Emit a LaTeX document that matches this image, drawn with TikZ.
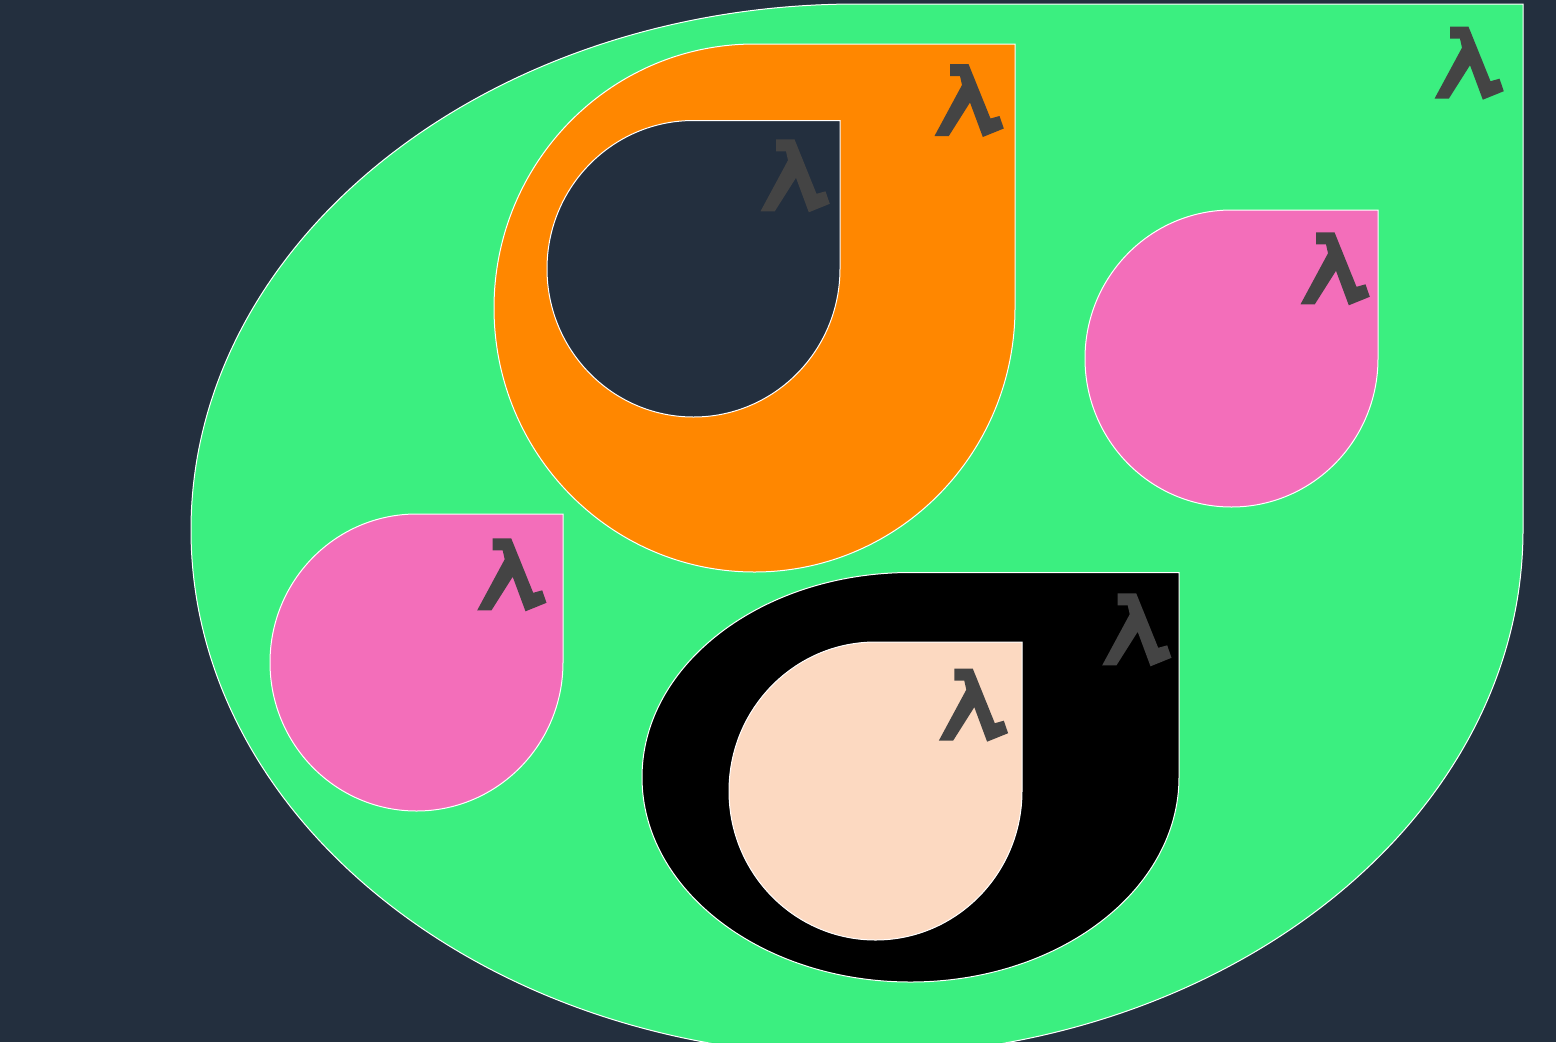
\documentclass[tikz,border=0pt]{standalone}
\usepackage{tikz}
\definecolor{bgc}{HTML}{232F3E}
\definecolor{greenc}{HTML}{3BEF80}
\definecolor{orangec}{HTML}{FF8700}
\definecolor{pinkc}{HTML}{F36EBA}
\definecolor{peachc}{HTML}{FCD9C1}
\definecolor{lamc}{HTML}{444444}
\tikzset{
  dropshape/.style={draw=white, line width=1pt},
  lamshape/.style={fill=lamc}
}
% #1 left, #2 top, #3 right, #4 bottom, #5 colour
\newcommand\dropdraw[5]{%
  \pgfmathsetmacro\dcx{(#1+#3)/2}%
  \pgfmathsetmacro\dcy{(#2+#4)/2}%
  \pgfmathsetmacro\drx{(#3-#1)/2}%
  \pgfmathsetmacro\dry{(#4-#2)/2}%
  \path[dropshape, fill=#5] (\dcx,#2) -- (#3,#2) -- (#3,\dcy)
    arc[start angle=0, end angle=270, x radius=\drx, y radius=\dry] -- cycle;%
}
\newcommand\lamdraw[2]{%
  \fill[lamshape, shift={(#1,#2)}] (0,0) -- (18.5,0) -- (40.5,54.5) -- (49.5,52)
    -- (53.8,64.5) -- (32.8,73) -- (20,38.5) -- (-1.2,72) -- (-15.5,72)
    -- (12,21) -- (10,12) -- (0,12) -- cycle;%
}
\begin{document}
\begin{tikzpicture}[x=1pt,y=-1pt]
  \useasboundingbox (0,0) rectangle (1556,1042);
  \fill[bgc] (0,0) rectangle (1556,1042);
  \begin{scope}
    \clip (0,0) rectangle (1556,1042);
    % green outer
    \dropdraw{191}{4}{1523}{1056}{greenc}
    \lamdraw{1450}{26.7}
    % orange
    \dropdraw{494}{44}{1015}{572}{orangec}
    \lamdraw{950}{64}
    % hole
    \dropdraw{547}{120.5}{840}{417}{bgc}
    \lamdraw{776}{139.3}
    % pink right
    \dropdraw{1085}{210}{1378}{507}{pinkc}
    \lamdraw{1316}{232.3}
    % pink left
    \dropdraw{270}{514}{563}{811}{pinkc}
    \lamdraw{492.7}{538.3}
    % black
    \dropdraw{642}{572.5}{1179}{982}{black}
    \lamdraw{1117.7}{593.3}
    % peach
    \dropdraw{729}{642}{1022}{940}{peachc}
    \lamdraw{954.3}{668.7}
  \end{scope}
\end{tikzpicture}
\end{document}
